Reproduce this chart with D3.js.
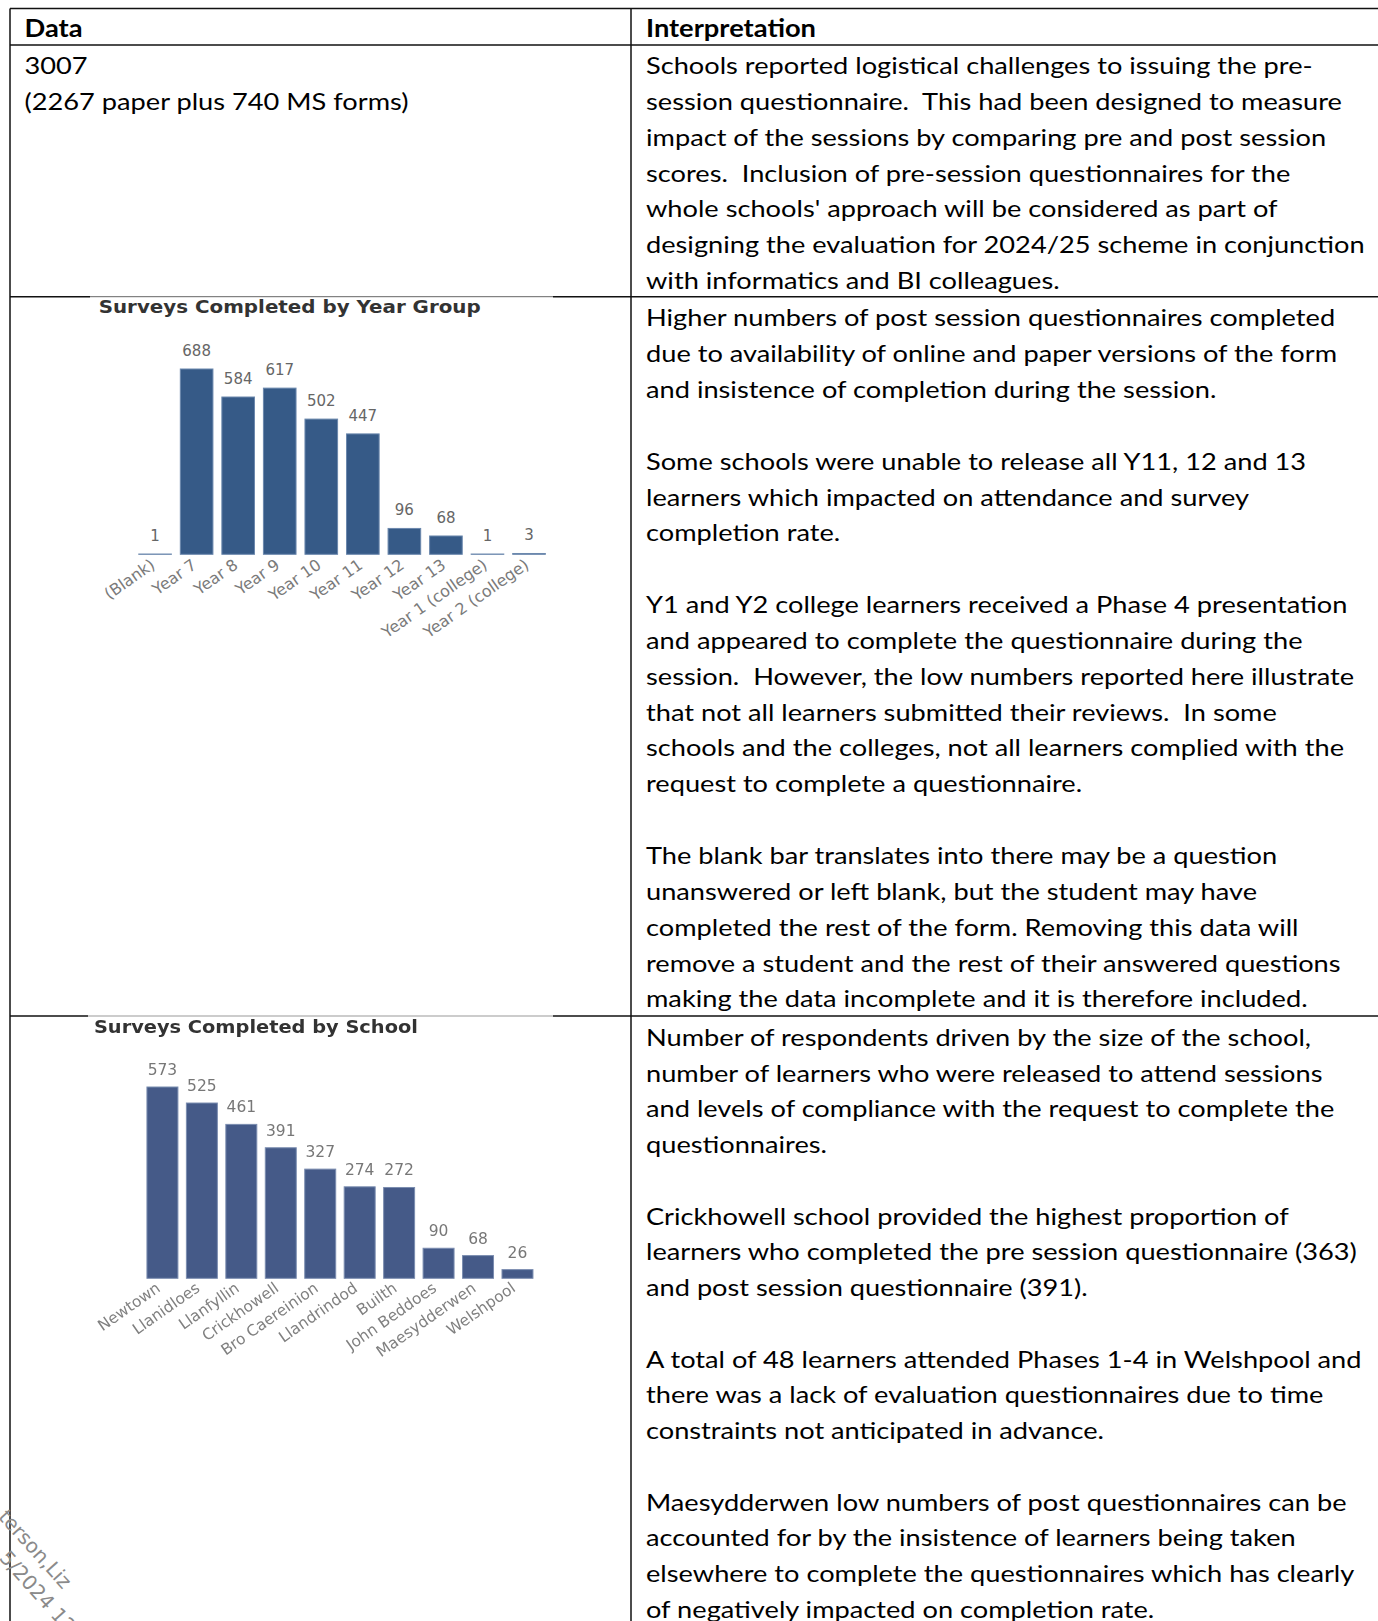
<!DOCTYPE html>
<html>
<head>
<meta charset="utf-8">
<script src="https://cdn.jsdelivr.net/npm/d3@7"></script>
<style>
  html, body { margin: 0; padding: 0; background: #fff; }
  svg { display: block; }
</style>
</head>
<body>
<script>
// ---- Data ----
const yearGroups = ["(Blank)", "Year 7", "Year 8", "Year 9", "Year 10", "Year 11",
  "Year 12", "Year 13", "Year 1 (college)", "Year 2 (college)"];
const yearCounts = [1, 688, 584, 617, 502, 447, 96, 68, 1, 3];

const schools = ["Newtown", "Llanidloes", "Llanfyllin", "Crickhowell", "Bro Caereinion",
  "Llandrindod", "Builth", "John Beddoes", "Maesydderwen", "Welshpool"];
const schoolCounts = [573, 525, 461, 391, 327, 274, 272, 90, 68, 26];

const headers = ["Data", "Interpretation"];
const dataCellLines = ["3007", "(2267 paper plus 740 MS forms)"];

const row1Lines = [
  "Schools reported logistical challenges to issuing the pre-",
  "session questionnaire.  This had been designed to measure",
  "impact of the sessions by comparing pre and post session",
  "scores.  Inclusion of pre-session questionnaires for the",
  "whole schools' approach will be considered as part of",
  "designing the evaluation for 2024/25 scheme in conjunction",
  "with informatics and BI colleagues."
];
const row2Lines = [
  "Higher numbers of post session questionnaires completed",
  "due to availability of online and paper versions of the form",
  "and insistence of completion during the session.",
  "",
  "Some schools were unable to release all Y11, 12 and 13",
  "learners which impacted on attendance and survey",
  "completion rate.",
  "",
  "Y1 and Y2 college learners received a Phase 4 presentation",
  "and appeared to complete the questionnaire during the",
  "session.  However, the low numbers reported here illustrate",
  "that not all learners submitted their reviews.  In some",
  "schools and the colleges, not all learners complied with the",
  "request to complete a questionnaire.",
  "",
  "The blank bar translates into there may be a question",
  "unanswered or left blank, but the student may have",
  "completed the rest of the form. Removing this data will",
  "remove a student and the rest of their answered questions",
  "making the data incomplete and it is therefore included."
];
const row3Lines = [
  "Number of respondents driven by the size of the school,",
  "number of learners who were released to attend sessions",
  "and levels of compliance with the request to complete the",
  "questionnaires.",
  "",
  "Crickhowell school provided the highest proportion of",
  "learners who completed the pre session questionnaire (363)",
  "and post session questionnaire (391).",
  "",
  "A total of 48 learners attended Phases 1-4 in Welshpool and",
  "there was a lack of evaluation questionnaires due to time",
  "constraints not anticipated in advance.",
  "",
  "Maesydderwen low numbers of post questionnaires can be",
  "accounted for by the insistence of learners being taken",
  "elsewhere to complete the questionnaires which has clearly",
  "of negatively impacted on completion rate."
];
const watermarkLines = ["terson,Liz", "5/2024 12"];

// ---- Page layout ----
const W = 1378, H = 1621;
const BODY_FONT = "Lato, 'Open Sans', sans-serif";
const CHART_FONT = "'DejaVu Sans', Verdana, sans-serif";
const bodySize = 24;
const tableLeft = 10, divider = 631, tableTop = 8.5;
const headerBottom = 45, row1Bottom = 296.7, row2Bottom = 1016;
const leftTextX = 24.5, rightTextX = 646;

const svg = d3.select("body").append("svg")
  .attr("width", W).attr("height", H)
  .attr("viewBox", `0 0 ${W} ${H}`);

svg.append("rect").attr("width", W).attr("height", H).attr("fill", "#fff");

const defs = svg.append("defs");
defs.append("filter").attr("id", "soft")
  .attr("x", "-5%").attr("y", "-5%").attr("width", "110%").attr("height", "110%")
  .append("feGaussianBlur").attr("stdDeviation", 0.45);

// horizontal compression so the substitute face sets the same line widths
const probe = svg.append("text")
  .attr("font-family", BODY_FONT).attr("font-size", bodySize)
  .text(row1Lines[5]);
const sx = 719 / probe.node().getComputedTextLength();
probe.remove();

// ---- Table rules ----
const rules = svg.append("g").attr("fill", "none");
function hline(y, x1, x2, color, w) {
  rules.append("line").attr("x1", x1).attr("x2", x2).attr("y1", y).attr("y2", y)
    .attr("stroke", color).attr("stroke-width", w);
}
hline(tableTop, tableLeft, W, "#111", 1.5);
hline(headerBottom, tableLeft, W, "#111", 1.5);
hline(row1Bottom, tableLeft, 90, "#111", 1.5);
hline(row1Bottom, 90, 553, "#666", 1);
hline(row1Bottom, 553, W, "#111", 1.5);
hline(row2Bottom, tableLeft, 88, "#111", 1.5);
hline(row2Bottom, 88, 553, "#999", 1);
hline(row2Bottom, 553, W, "#111", 1.5);
[tableLeft, divider].forEach(x => {
  rules.append("line").attr("x1", x).attr("x2", x).attr("y1", tableTop).attr("y2", H)
    .attr("stroke", "#111").attr("stroke-width", 1.5);
});

// ---- Cell text ----
function textBlock(x, lines, y0, step, weight) {
  const g = svg.append("g").attr("transform", `translate(${x},0) scale(${sx},1)`);
  g.selectAll("text").data(lines).join("text")
    .attr("x", 0)
    .attr("y", (d, i) => y0 + i * step)
    .attr("font-family", BODY_FONT)
    .attr("font-size", bodySize)
    .attr("font-weight", weight || 400)
    .attr("fill", "#000")
    .attr("xml:space", "preserve")
    .style("white-space", "pre")
    .text(d => d);
  return g;
}

// header row
svg.append("text").attr("x", leftTextX).attr("y", 36.8)
  .attr("font-family", BODY_FONT).attr("font-size", bodySize).attr("font-weight", 700)
  .attr("textLength", 58).attr("lengthAdjust", "spacingAndGlyphs").text(headers[0]);
svg.append("text").attr("x", rightTextX).attr("y", 36.8)
  .attr("font-family", BODY_FONT).attr("font-size", bodySize).attr("font-weight", 700)
  .attr("textLength", 170).attr("lengthAdjust", "spacingAndGlyphs").text(headers[1]);

textBlock(leftTextX, dataCellLines, 74, 35.85);
textBlock(rightTextX, row1Lines, 74, 35.85);
textBlock(rightTextX, row2Lines, 326.3, 35.85);
textBlock(rightTextX, row3Lines, 1045.8, 35.75);

// ---- Bar charts ----
function barChart(cfg) {
  const g = svg.append("g");
  if (cfg.filter) g.attr("filter", cfg.filter);

  const x = d3.scaleBand()
    .domain(cfg.categories)
    .range(cfg.xRange)
    .paddingInner(0.215)
    .paddingOuter(0.1075);
  const y = d3.scaleLinear()
    .domain([0, d3.max(cfg.values)])
    .range([cfg.baseY, cfg.topY]);

  const data = cfg.categories.map((c, i) => ({ c, v: cfg.values[i] }));

  g.append("text")
    .attr("x", cfg.titleX).attr("y", cfg.titleY)
    .attr("font-family", CHART_FONT).attr("font-size", 18).attr("font-weight", 700)
    .attr("fill", "#333")
    .attr("textLength", cfg.titleWidth).attr("lengthAdjust", "spacingAndGlyphs")
    .text(cfg.title);

  g.append("g").selectAll("rect").data(data).join("rect")
    .attr("x", d => x(d.c))
    .attr("y", d => y(d.v))
    .attr("width", x.bandwidth())
    .attr("height", d => cfg.baseY - y(d.v))
    .attr("fill", cfg.color)
    .attr("stroke", cfg.edge)
    .attr("stroke-width", 1);

  g.append("g").selectAll("text").data(data).join("text")
    .attr("x", d => x(d.c) + x.bandwidth() / 2)
    .attr("y", d => y(d.v) - cfg.labelGap)
    .attr("text-anchor", "middle")
    .attr("font-family", CHART_FONT).attr("font-size", cfg.valueSize)
    .attr("fill", cfg.valueColor)
    .text(d => d.v);

  const axis = g.append("g")
    .attr("transform", `translate(0,${cfg.baseY})`)
    .call(d3.axisBottom(x).tickSize(0).tickPadding(0));
  axis.select(".domain").remove();
  axis.selectAll(".tick text")
    .attr("x", 0).attr("y", 0).attr("dy", 0)
    .attr("text-anchor", "end")
    .attr("transform", `translate(${cfg.tickDx},${cfg.tickDy}) rotate(-35)`)
    .attr("font-family", CHART_FONT).attr("font-size", cfg.tickSize)
    .attr("fill", cfg.tickColor);
  return g;
}

barChart({
  title: "Surveys Completed by Year Group",
  titleX: 98.7, titleY: 312.7, titleWidth: 382,
  categories: yearGroups, values: yearCounts,
  xRange: [134.3, 549.8], baseY: 554.3, topY: 369,
  color: "#365a87", edge: "#6b88ad",
  valueColor: "#666", valueSize: 15, labelGap: 13,
  tickColor: "#7a7a7a", tickSize: 16, tickDx: 1, tickDy: 13
});

barChart({
  title: "Surveys Completed by School",
  titleX: 93.9, titleY: 1033, titleWidth: 324,
  categories: schools, values: schoolCounts,
  xRange: [142.7, 537.2], baseY: 1278.3, topY: 1087,
  color: "#445a88", edge: "#7b8db0",
  valueColor: "#777", valueSize: 15.5, labelGap: 12,
  tickColor: "#808080", tickSize: 15.5, tickDx: -1, tickDy: 12,
  filter: "url(#soft)"
});

// ---- Document watermark ----
const wm = svg.append("g").attr("font-family", CHART_FONT).attr("font-size", 20).attr("fill", "#8a8a8a");
const wmStarts = [[-2.5, 1517.5], [-1.5, 1558.5]];
watermarkLines.forEach((t, i) => {
  wm.append("text")
    .attr("transform", `translate(${wmStarts[i][0]},${wmStarts[i][1]}) rotate(48)`)
    .text(t);
});
</script>
</body>
</html>
